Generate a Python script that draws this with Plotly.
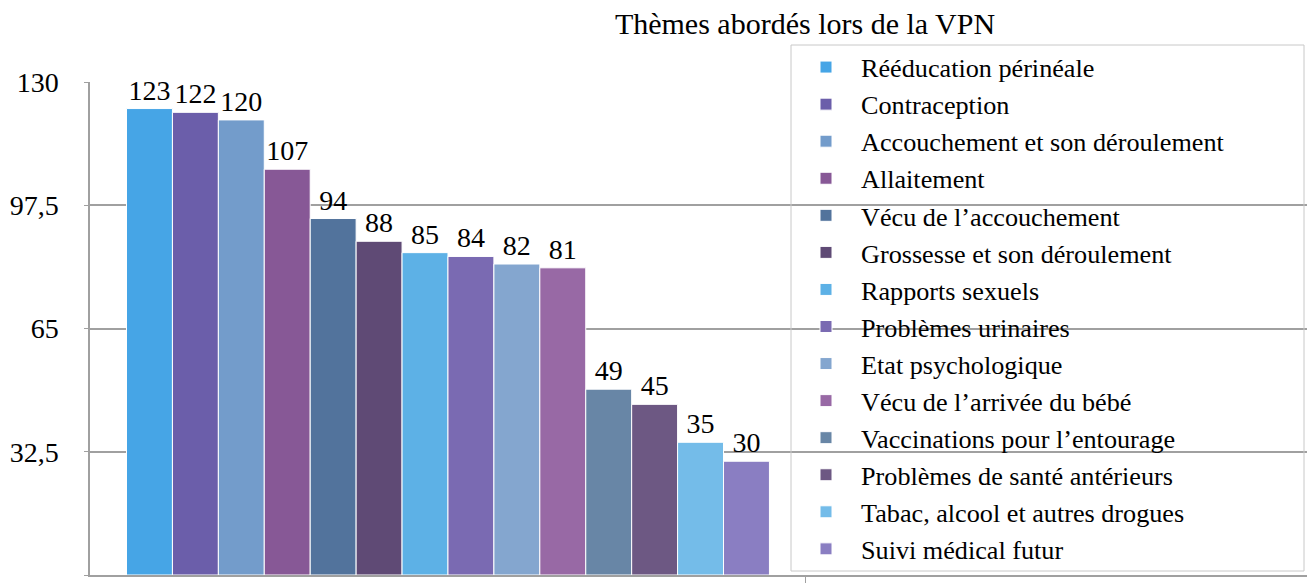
import plotly.graph_objects as go

categories = [
    "Rééducation périnéale",
    "Contraception",
    "Accouchement et son déroulement",
    "Allaitement",
    "Vécu de l’accouchement",
    "Grossesse et son déroulement",
    "Rapports sexuels",
    "Problèmes urinaires",
    "Etat psychologique",
    "Vécu de l’arrivée du bébé",
    "Vaccinations pour l’entourage",
    "Problèmes de santé antérieurs",
    "Tabac, alcool et autres drogues",
    "Suivi médical futur",
]
values = [123, 122, 120, 107, 94, 88, 85, 84, 82, 81, 49, 45, 35, 30]
colors = [
    "#46A5E6", "#6B5EAA", "#739CCB", "#875896", "#52739C", "#5F4A75", "#5DB1E6",
    "#7A6AB2", "#84A6CF", "#9869A5", "#6886A6", "#6D5883", "#74BCE9", "#8A7EC2",
]
y_tickvals = [0, 32.5, 65, 97.5, 130]
y_ticktext = ["0", "32,5", "65", "97,5", "130"]
title_text = "Thèmes abordés lors de la VPN"

FONT = "Liberation Serif, Times New Roman, serif"
GRID = "#a0a0a0"
W, H = 1307, 580  # page body adds an 8px offset

fig = go.Figure()
for name, val, col in zip(categories, values, colors):
    fig.add_trace(go.Bar(
        x=[0], y=[val], name=name,
        marker=dict(color=col, line=dict(color="white", width=1)),
        text=[str(val)], textposition="outside",
        textfont=dict(family=FONT, size=28, color="black"),
        cliponaxis=False,
        hoverinfo="name+y",
    ))

# legend frame (wider than the auto-sized legend box)
fig.add_shape(type="rect", xref="paper", yref="paper",
              x0=(791 - 90) / 1225, x1=(1304 - 90) / 1225,
              y0=(575 - 571) / 493, y1=(575 - 45) / 493,
              line=dict(color="#c8c8c8", width=1), fillcolor="rgba(0,0,0,0)")

fig.update_layout(
    width=W, height=H,
    margin=dict(l=82, r=0, t=74, b=13, autoexpand=False),
    paper_bgcolor="white", plot_bgcolor="white",
    barmode="group", bargap=0.102, bargroupgap=0,
    font=dict(family=FONT, color="black"),
    title=dict(text=title_text, x=797 / W, xanchor="center",
               y=1 - 15 / H, yanchor="middle", yref="container",
               font=dict(family=FONT, size=30, color="black")),
    legend=dict(x=(791 - 90) / 1225, y=1.078, xanchor="left", yanchor="top",
                borderwidth=0, bgcolor="rgba(0,0,0,0)", maxheight=580,
                itemwidth=60,
                font=dict(family=FONT, size=26.2, color="black"),
                traceorder="normal"),
    xaxis=dict(range=[-0.5, 1.211], tickvals=[0.5], showticklabels=False,
               ticks="outside", ticklen=6, tickcolor=GRID,
               showline=True, linecolor=GRID, linewidth=1.5,
               showgrid=False, zeroline=False, fixedrange=True, automargin=False),
    yaxis=dict(range=[0, 130], tickvals=y_tickvals, ticktext=y_ticktext,
               ticks="outside", ticklen=4, tickcolor=GRID,
               showline=True, linecolor=GRID, linewidth=1.5,
               showgrid=True, gridcolor=GRID, gridwidth=1.5,
               zeroline=False, ticklabelstandoff=20, automargin=False,
               tickfont=dict(family=FONT, size=28, color="black")),
)

fig.write_html("out.html")
